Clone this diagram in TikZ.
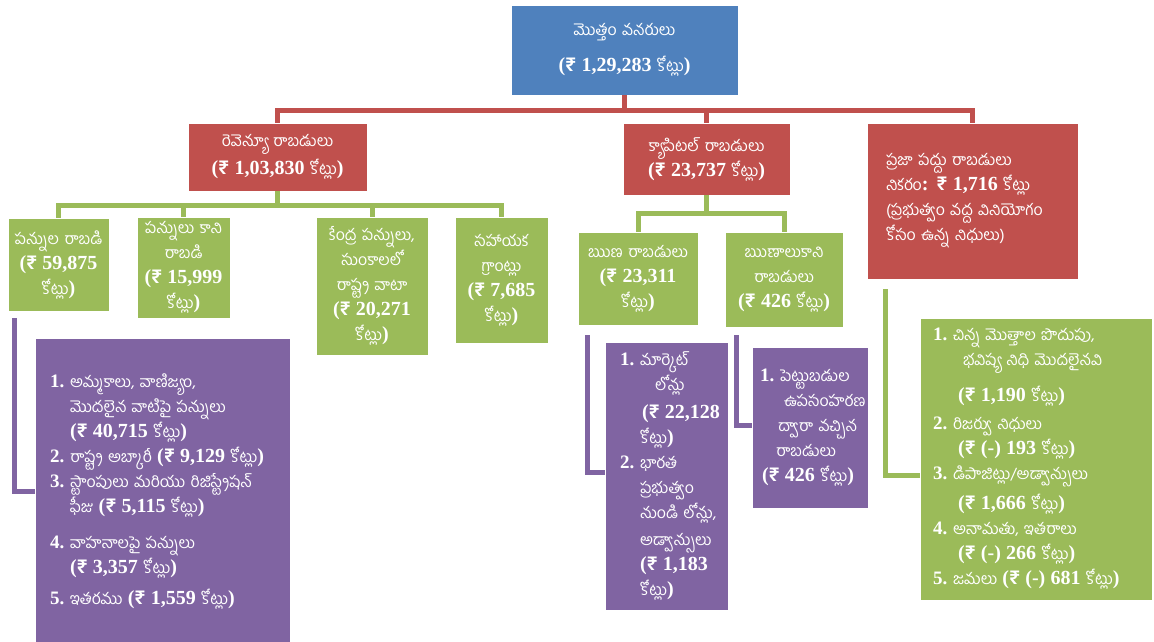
\documentclass[tikz,border=0pt]{standalone}
\usepackage{fontspec}
\setmainfont{Liberation Serif}
\newfontfamily\tel[Script=Telugu,Scale=0.88]{Hind Guntur}
\newfontfamily\rsfont{Hind Guntur}
\newcommand\amt[1]{{\rmfamily\bfseries\fontsize{20}{25}\selectfont #1}}
\newcommand\rs{{\rsfont\bfseries ₹}}
\newcommand\itm[1]{\makebox[20pt][l]{\rmfamily\bfseries\fontsize{19}{25}\selectfont #1.}}
\definecolor{blu}{HTML}{4F81BD}
\definecolor{rd}{HTML}{C0504D}
\definecolor{grn}{HTML}{9BBB59}
\definecolor{pur}{HTML}{8064A2}
\begin{document}
\begin{tikzpicture}[x=1pt,y=-1pt,
  box/.style={rectangle,draw=white,line width=.8pt,text=white,inner xsep=0pt,inner ysep=0pt,
    font=\tel\fontsize{18}{25}\selectfont},
  bluebox/.style={box,fill=blu,align=center},
  redbox/.style={box,fill=rd},
  grnbox/.style={box,fill=grn},
  purbox/.style={box,fill=pur,align=left},
  redln/.style={rd,line width=5pt},
  grnln/.style={grn,line width=5pt},
  purln/.style={pur,line width=5pt}]
\useasboundingbox (0,0) rectangle (1154,641);
% top level
\node[bluebox,text width=227pt,minimum height=90pt] (top) at (624.5,50)
  {మొత్తం వనరులు\\[11pt]\amt{(\rs{} 1,29,283} కోట్లు\amt{)}};
\node[redbox,align=center,text width=179pt,minimum height=68pt] (rev) at (277.5,157)
  {రెవెన్యూ రాబడులు\\[3pt]\amt{(\rs{} 1,03,830} కోట్లు\amt{)}};
\node[redbox,align=center,text width=167pt,minimum height=72pt] (cap) at (706.5,159)
  {క్యాపిటల్ రాబడులు\\\amt{(\rs{} 23,737} కోట్లు\amt{)}};
\node[redbox,align=left,text width=211pt,minimum height=156pt] (pub) at (972.5,201)
  {\hspace*{19pt}ప్రజా పద్దు రాబడులు\\
   \hspace*{19pt}నికరం\amt{: \rs{} 1,716} కోట్లు\\
   \hspace*{19pt}(ప్రభుత్వం వద్ద వినియోగం\\
   \hspace*{19pt}కోసం ఉన్న నిధులు)};
% revenue parts
\node[grnbox,align=center,text width=101pt,minimum height=93pt] (tax) at (58.5,264.5)
  {పన్నుల రాబడి\\\amt{(\rs{} 59,875}\\కోట్లు\amt{)}};
\node[grnbox,align=center,text width=93pt,minimum height=101pt] (ntax) at (183.5,267.5)
  {పన్నులు కాని\\రాబడి\\\amt{(\rs{} 15,999}\\కోట్లు\amt{)}};
\node[grnbox,align=center,text width=112pt,minimum height=138pt] (share) at (372,286)
  {కేంద్ర పన్నులు,\\సుంకాలలో\\రాష్ట్ర వాటా\\\amt{(\rs{} 20,271}\\కోట్లు\amt{)}};
\node[grnbox,align=center,text width=93pt,minimum height=126pt] (grant) at (501.5,280)
  {సహాయక\\గ్రాంట్లు\\\amt{(\rs{} 7,685}\\కోట్లు\amt{)}};
% capital parts
\node[grnbox,align=center,text width=120pt,minimum height=93pt] (debt) at (638,278.5)
  {ఋణ రాబడులు\\\amt{(\rs{} 23,311}\\కోట్లు\amt{)}};
\node[grnbox,align=center,text width=118pt,minimum height=95pt] (ndebt) at (784,279.5)
  {ఋణాలుకాని\\రాబడులు\\\amt{(\rs{} 426} కోట్లు\amt{)}};
% lists
\node[purbox,text width=255pt,minimum height=307pt] (sales) at (162.5,491.5)
  {\hspace*{15pt}\itm{1}అమ్మకాలు, వాణిజ్యం,\\
   \hspace*{35pt}మొదలైన వాటిపై పన్నులు\\
   \hspace*{35pt}\amt{(\rs{} 40,715} కోట్లు\amt{)}\\
   \hspace*{15pt}\itm{2}రాష్ట్ర అబ్కారీ \amt{(\rs{} 9,129} కోట్లు\amt{)}\\
   \hspace*{15pt}\itm{3}స్టాంపులు మరియు రిజిస్ట్రేషన్\\
   \hspace*{35pt}ఫీజు \amt{(\rs{} 5,115} కోట్లు\amt{)}\\[11pt]
   \hspace*{15pt}\itm{4}వాహనాలపై పన్నులు\\
   \hspace*{35pt}\amt{(\rs{} 3,357} కోట్లు\amt{)}\\[6pt]
   \hspace*{15pt}\itm{5}ఇతరము \amt{(\rs{} 1,559} కోట్లు\amt{)}\\[6pt]};
\node[purbox,text width=123pt,minimum height=268pt] (mkt) at (666.5,476)
  {\hspace*{15pt}\itm{1}మార్కెట్\\
   \hspace*{50pt}లోన్లు\\[3pt]
   \hspace*{37pt}\amt{(\rs{} 22,128}\\
   \hspace*{35pt}కోట్లు\amt{)}\\
   \hspace*{15pt}\itm{2}భారత\\
   \hspace*{35pt}ప్రభుత్వం\\
   \hspace*{35pt}నుండి లోన్లు,\\[2pt]
   \hspace*{35pt}అడ్వాన్సులు\\
   \hspace*{35pt}\amt{(\rs{} 1,183}\\
   \hspace*{35pt}కోట్లు\amt{)}};
\node[purbox,text width=116pt,minimum height=161pt] (disinv) at (810,427.5)
  {\hspace*{8pt}\itm{1}పెట్టుబడుల\\
   \hspace*{32pt}ఉపసంహరణ\\
   \hspace*{26pt}ద్వారా వచ్చిన\\
   \hspace*{24pt}రాబడులు\\
   \hspace*{10pt}\amt{(\rs{} 426} కోట్లు\amt{)}};
\node[grnbox,align=left,text width=232pt,minimum height=282pt] (pubd) at (1036,459)
  {\hspace*{13pt}\itm{1}చిన్న మొత్తాల పొదుపు,\\
   \hspace*{43pt}భవిష్య నిధి మొదలైనవి\\[11pt]
   \hspace*{38pt}\amt{(\rs{} 1,190} కోట్లు\amt{)}\\[3pt]
   \hspace*{13pt}\itm{2}రిజర్వు నిధులు\\
   \hspace*{38pt}\amt{(\rs{} (-) 193} కోట్లు\amt{)}\\
   \hspace*{13pt}\itm{3}డిపాజిట్లు/అడ్వాన్సులు\\[5pt]
   \hspace*{38pt}\amt{(\rs{} 1,666} కోట్లు\amt{)}\\
   \hspace*{13pt}\itm{4}అనామతు, ఇతరాలు\\
   \hspace*{38pt}\amt{(\rs{} (-) 266} కోట్లు\amt{)}\\
   \hspace*{13pt}\itm{5}జమలు \amt{(\rs{} (-) 681} కోట్లు\amt{)}};
% connectors
\coordinate (rbus) at (0,110);
\coordinate (gbus) at (0,205);
\coordinate (cbus) at (0,213);
\draw[redln] (top.south) -- (top.south |- rbus);
\draw[redln] (rev.north) -- (rev.north |- rbus) -- (pub.north |- rbus) -- (pub.north);
\draw[redln] (cap.north) -- (cap.north |- rbus);
\draw[grnln] (rev.south) -- (rev.south |- gbus);
\draw[grnln] (tax.north) -- (tax.north |- gbus) -- (grant.north |- gbus) -- (grant.north);
\draw[grnln] (ntax.north) -- (ntax.north |- gbus);
\draw[grnln] (share.north) -- (share.north |- gbus);
\draw[grnln] (cap.south) -- (cap.south |- cbus);
\draw[grnln] (debt.north) -- (debt.north |- cbus) -- (ndebt.north |- cbus) -- (ndebt.north);
\draw[purln] ([shift={(7pt,-7pt)}]tax.south west) |- (sales.west);
\draw[purln] ([shift={(10pt,-10pt)}]debt.south west) |- ([yshift=4pt]mkt.west);
\draw[purln] ([shift={(12pt,-8pt)}]ndebt.south west) |- ([yshift=2pt]disinv.west);
\draw[grnln] ([shift={(19pt,-10pt)}]pub.south west) |- ([yshift=-16pt]pubd.west);
\end{tikzpicture}
\end{document}
